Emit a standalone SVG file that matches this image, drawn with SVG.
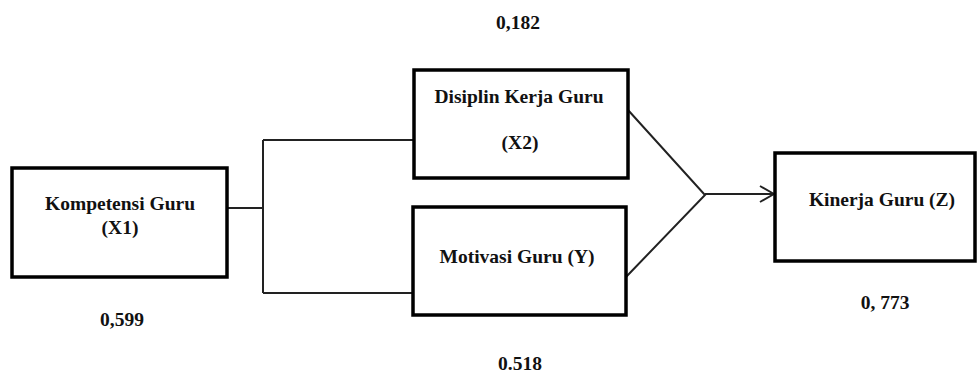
<svg xmlns="http://www.w3.org/2000/svg" width="978" height="373" viewBox="0 0 978 373">
<style>
.box{fill:#fff;stroke:#000;stroke-width:3.5}
.ln{fill:none;stroke:#222;stroke-width:2}
text{font-family:"Liberation Serif","Times New Roman",serif;font-weight:bold;font-size:19.5px;fill:#111;text-anchor:middle}
</style>
<defs>
<marker id="arr" markerWidth="16" markerHeight="18" refX="15" refY="9" orient="auto" markerUnits="userSpaceOnUse">
<path d="M1,1 L15,9 L1,17" fill="none" stroke="#222" stroke-width="2"/>
</marker>
</defs>
<g id="connectors">
<path class="ln" d="M227,208 H263 M263,140 V293 M263,140 H414 M263,293 H413"/>
<path class="ln" d="M628,110 L705,195 L626,277"/>
<path class="ln" d="M705,194 H774" marker-end="url(#arr)"/>
</g>
<g id="x1">
<rect class="box" x="12" y="168" width="215" height="109"/>
<text x="120" y="210">Kompetensi Guru</text>
<text x="120" y="234">(X1)</text>
</g>
<g id="x2">
<rect class="box" x="414" y="70" width="214" height="108"/>
<text x="519" y="103">Disiplin Kerja Guru</text>
<text x="520" y="149">(X2)</text>
</g>
<g id="y">
<rect class="box" x="413" y="207" width="213" height="108"/>
<text x="517" y="263">Motivasi Guru (Y)</text>
</g>
<g id="z">
<rect class="box" x="775" y="153" width="200" height="108"/>
<text x="882" y="206">Kinerja Guru (Z)</text>
</g>
<g id="labels">
<text x="518" y="29">0,182</text>
<text x="122" y="326">0,599</text>
<text x="520" y="370">0.518</text>
<text x="885" y="309">0, 773</text>
</g>
</svg>
